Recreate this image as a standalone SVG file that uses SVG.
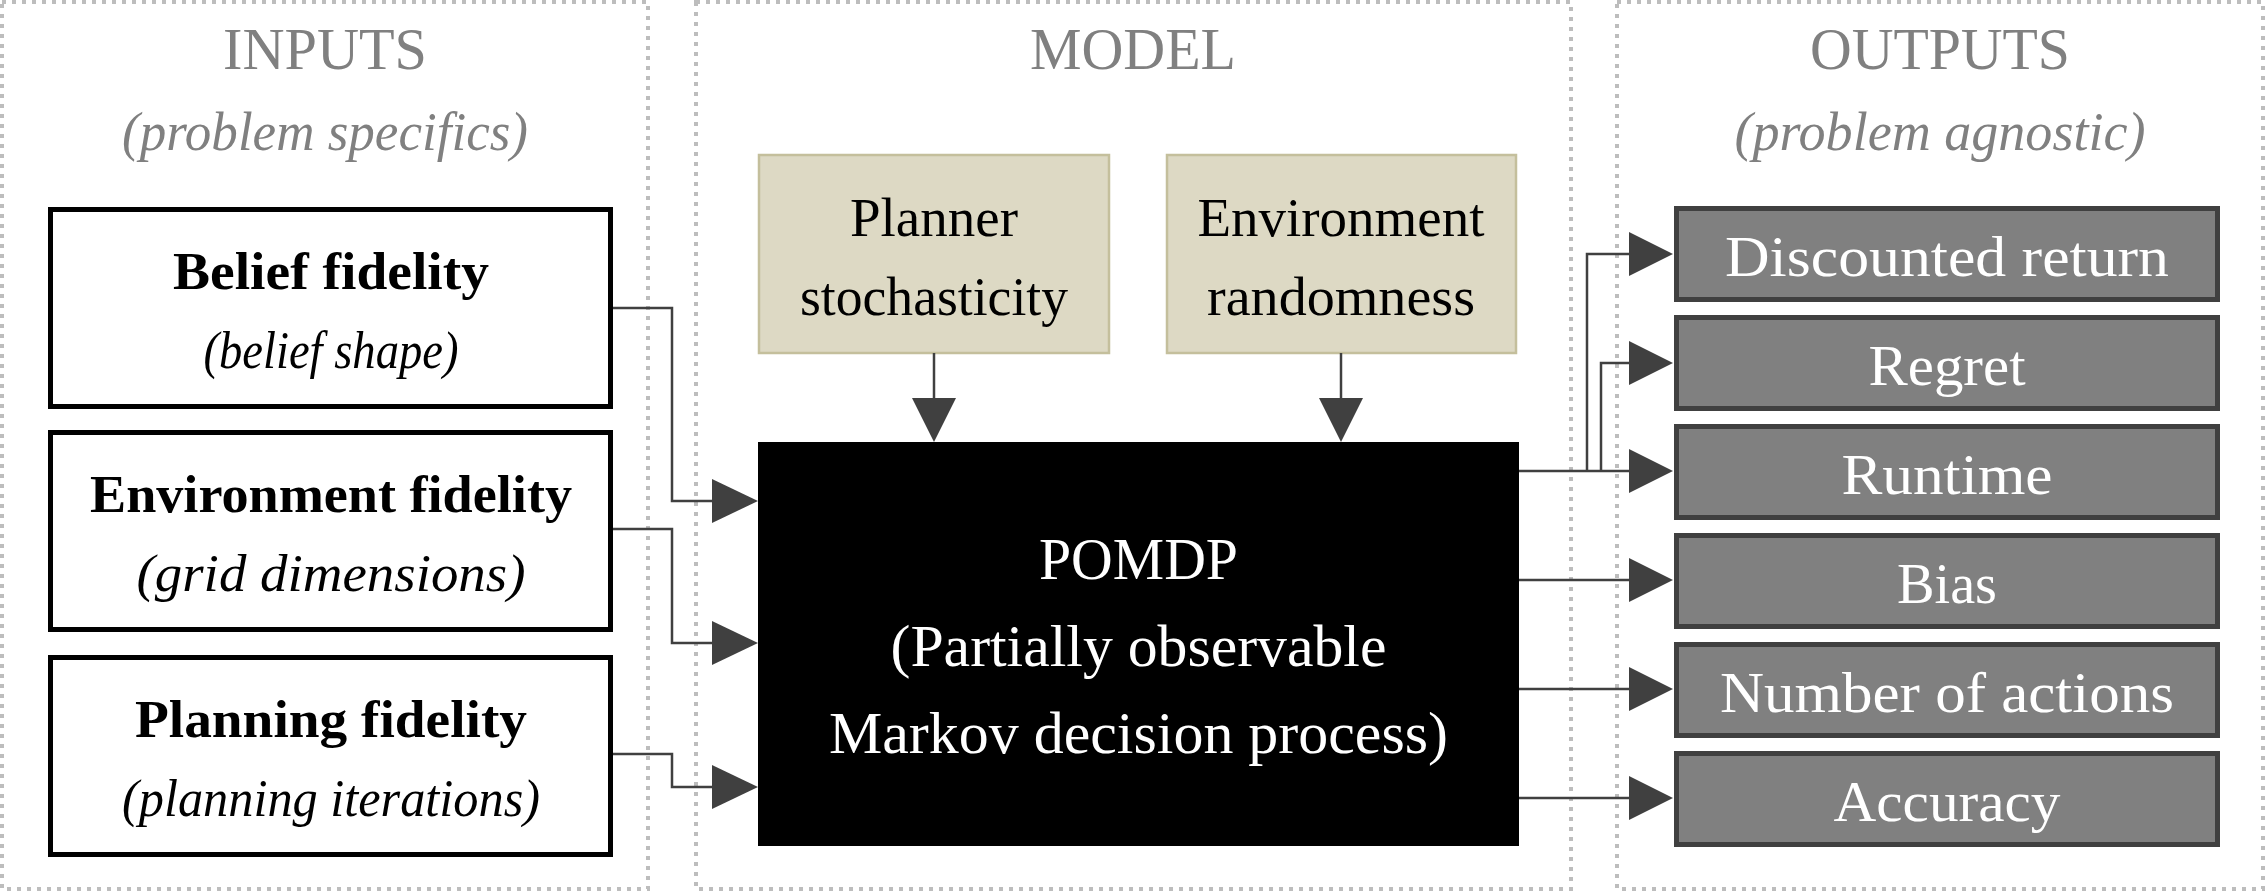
<svg xmlns="http://www.w3.org/2000/svg" width="2266" height="893" viewBox="0 0 2266 893">
<style>
.panel{fill:none;stroke:#bdbdbd;stroke-width:4;stroke-dasharray:4 6}
.hdr{font-family:"Liberation Serif",serif;font-size:59px;fill:#808080;text-anchor:middle}
.sub{font-family:"Liberation Serif",serif;font-size:55px;font-style:italic;fill:#808080;text-anchor:middle}
.inbox{fill:#fff;stroke:#000;stroke-width:5}
.intitle{font-family:"Liberation Serif",serif;font-size:52px;font-weight:bold;fill:#000;text-anchor:middle}
.insub{font-family:"Liberation Serif",serif;font-size:52px;font-style:italic;fill:#000;text-anchor:middle}
.src{fill:#ddd9c4;stroke:#c4bf9c;stroke-width:2.5}
.srct{font-family:"Liberation Serif",serif;font-size:55px;fill:#000;text-anchor:middle}
.pomdp{font-family:"Liberation Serif",serif;font-size:59px;fill:#fff;text-anchor:middle}
.outbox{fill:#808080;stroke:#404040;stroke-width:5}
.outt{font-family:"Liberation Serif",serif;font-size:58px;fill:#fff;text-anchor:middle}
.wire{fill:none;stroke:#404040;stroke-width:2.5}
.head{fill:#404040}
</style>
<g id="panels">
<rect class="panel" x="2" y="2" width="646" height="887"/>
<rect class="panel" x="696" y="2" width="875" height="887"/>
<rect class="panel" x="1617" y="2" width="646" height="887"/>
<text class="hdr" x="325" y="69" textLength="204" lengthAdjust="spacingAndGlyphs">INPUTS</text>
<text class="sub" x="325" y="150" textLength="406" lengthAdjust="spacingAndGlyphs">(problem specifics)</text>
<text class="hdr" x="1133" y="69" textLength="206" lengthAdjust="spacingAndGlyphs">MODEL</text>
<text class="hdr" x="1940" y="69" textLength="260" lengthAdjust="spacingAndGlyphs">OUTPUTS</text>
<text class="sub" x="1940" y="150" textLength="411" lengthAdjust="spacingAndGlyphs">(problem agnostic)</text>
</g>
<g id="belief-fidelity">
<rect class="inbox" x="50.5" y="209.5" width="560" height="197"/>
<text class="intitle" x="331" y="289" textLength="316" lengthAdjust="spacingAndGlyphs">Belief fidelity</text>
<text class="insub" x="331" y="368" textLength="255" lengthAdjust="spacingAndGlyphs">(belief shape)</text>
</g>
<g id="environment-fidelity">
<rect class="inbox" x="50.5" y="432.5" width="560" height="197"/>
<text class="intitle" x="331" y="512" textLength="482" lengthAdjust="spacingAndGlyphs">Environment fidelity</text>
<text class="insub" x="331" y="591" textLength="389" lengthAdjust="spacingAndGlyphs">(grid dimensions)</text>
</g>
<g id="planning-fidelity">
<rect class="inbox" x="50.5" y="657.5" width="560" height="197"/>
<text class="intitle" x="331" y="737" textLength="392" lengthAdjust="spacingAndGlyphs">Planning fidelity</text>
<text class="insub" x="331" y="816" textLength="418" lengthAdjust="spacingAndGlyphs">(planning iterations)</text>
</g>
<g id="planner-stochasticity">
<rect class="src" x="759" y="155" width="350" height="198"/>
<text class="srct" x="934" y="236" textLength="168" lengthAdjust="spacingAndGlyphs">Planner</text>
<text class="srct" x="934" y="315" textLength="268" lengthAdjust="spacingAndGlyphs">stochasticity</text>
</g>
<g id="environment-randomness">
<rect class="src" x="1167" y="155" width="349" height="198"/>
<text class="srct" x="1341" y="236" textLength="287" lengthAdjust="spacingAndGlyphs">Environment</text>
<text class="srct" x="1341" y="315" textLength="268" lengthAdjust="spacingAndGlyphs">randomness</text>
</g>
<g id="pomdp">
<rect x="758" y="442" width="761" height="404" fill="#000"/>
<text class="pomdp" x="1138.5" y="579" textLength="199" lengthAdjust="spacingAndGlyphs">POMDP</text>
<text class="pomdp" x="1138.5" y="666" textLength="496" lengthAdjust="spacingAndGlyphs">(Partially observable</text>
<text class="pomdp" x="1138.5" y="753" textLength="619" lengthAdjust="spacingAndGlyphs">Markov decision process)</text>
</g>
<g id="discounted-return">
<rect class="outbox" x="1676.5" y="208.5" width="541" height="91"/>
<text class="outt" x="1947" y="276" textLength="444" lengthAdjust="spacingAndGlyphs">Discounted return</text>
</g>
<g id="regret">
<rect class="outbox" x="1676.5" y="317.5" width="541" height="91"/>
<text class="outt" x="1947" y="385" textLength="157" lengthAdjust="spacingAndGlyphs">Regret</text>
</g>
<g id="runtime">
<rect class="outbox" x="1676.5" y="426.5" width="541" height="91"/>
<text class="outt" x="1947" y="494" textLength="211" lengthAdjust="spacingAndGlyphs">Runtime</text>
</g>
<g id="bias">
<rect class="outbox" x="1676.5" y="535.5" width="541" height="91"/>
<text class="outt" x="1947" y="603" textLength="100" lengthAdjust="spacingAndGlyphs">Bias</text>
</g>
<g id="number-of-actions">
<rect class="outbox" x="1676.5" y="644.5" width="541" height="91"/>
<text class="outt" x="1947" y="712" textLength="454" lengthAdjust="spacingAndGlyphs">Number of actions</text>
</g>
<g id="accuracy">
<rect class="outbox" x="1676.5" y="753.5" width="541" height="91"/>
<text class="outt" x="1947" y="821" textLength="227" lengthAdjust="spacingAndGlyphs">Accuracy</text>
</g>
<g id="connectors">
<path class="wire" d="M613,308 H672 V501 H714"/>
<polygon class="head" points="712,479 758,501 712,523"/>
<path class="wire" d="M613,529 H672 V643 H714"/>
<polygon class="head" points="712,621 758,643 712,665"/>
<path class="wire" d="M613,754 H672 V787 H714"/>
<polygon class="head" points="712,765 758,787 712,809"/>
<path class="wire" d="M934,353 V400"/>
<polygon class="head" points="912,398 956,398 934,442"/>
<path class="wire" d="M1341,353 V400"/>
<polygon class="head" points="1319,398 1363,398 1341,442"/>
<path class="wire" d="M1519,471 H1631"/>
<polygon class="head" points="1629,449 1673,471 1629,493"/>
<path class="wire" d="M1587,471 V254 H1631"/>
<polygon class="head" points="1629,232 1673,254 1629,276"/>
<path class="wire" d="M1601,471 V363 H1631"/>
<polygon class="head" points="1629,341 1673,363 1629,385"/>
<path class="wire" d="M1519,580 H1631"/>
<polygon class="head" points="1629,558 1673,580 1629,602"/>
<path class="wire" d="M1519,689 H1631"/>
<polygon class="head" points="1629,667 1673,689 1629,711"/>
<path class="wire" d="M1519,798 H1631"/>
<polygon class="head" points="1629,776 1673,798 1629,820"/>
</g>
</svg>
